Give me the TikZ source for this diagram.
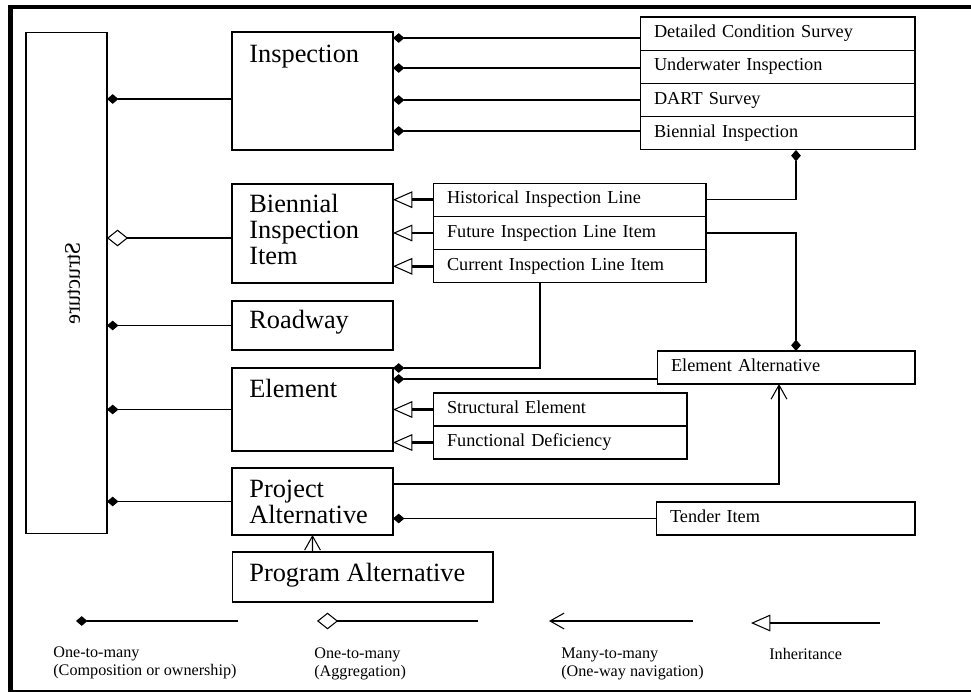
\documentclass[tikz,border=0pt]{standalone}
\usepackage{fontspec}
\setmainfont{Liberation Serif}
\usetikzlibrary{arrows.meta,positioning}

\begin{document}
\begin{tikzpicture}[x=0.02cm,y=-0.02cm,
  box/.style={draw, rectangle, inner sep=0pt, outer sep=0pt, line width=0.6pt},
  row/.style={draw, rectangle, outer sep=0pt, inner ysep=0pt, inner xsep=0.28cm, line width=0.6pt,
    align=left, font=\fontsize{10.4}{12}\selectfont, text height=7pt, text depth=2.4pt, minimum height=0.665cm},
  big/.style={font=\fontsize{15}{17}\selectfont, inner sep=0pt, anchor=base west},
  key/.style={font=\fontsize{9.2}{11}\selectfont, inner sep=0pt, anchor=base west},
  link/.style={line width=0.6pt},
  comp/.style={link, -{Diamond[length=6.5pt,width=5.5pt]}},
  agg/.style={link, -{Diamond[open,length=12pt,width=9.5pt]}},
  inh/.style={line width=1.4pt, -{Triangle[open,length=11pt,width=9.5pt,line width=0.6pt]}},
  nav/.style={link, -{Straight Barb[length=8pt,width=9pt]}}]
  \useasboundingbox (0,0) rectangle (971,691);
  % frame
  \draw[line width=2.5pt] (10.5,7) rectangle (1000,692);

  % main classes
  \node[box, minimum width=1.62cm, minimum height=10.04cm] (struct) at (66.5,283) {};
  \node[font=\fontsize{12.7}{14}\selectfont, cm={0,-1,-1,0,(0,0)}] at ([xshift=0.12cm]struct.center) {Structure};

  \node[box, minimum width=3.22cm, minimum height=2.36cm] (insp) at (312.5,91) {};
  \node[big] at ([shift={(17,30)}]insp.north west) {Inspection};

  \node[box, minimum width=3.22cm, minimum height=1.98cm] (bii) at (312.5,233.5) {};
  \node[big] at ([shift={(17,28)}]bii.north west) {Biennial};
  \node[big] at ([shift={(17,54)}]bii.north west) {Inspection};
  \node[big] at ([shift={(17,80)}]bii.north west) {Item};

  \node[box, minimum width=3.22cm, minimum height=0.98cm] (road) at (312.5,325.5) {};
  \node[big] at ([shift={(17,27)}]road.north west) {Roadway};

  \node[box, minimum width=3.22cm, minimum height=1.66cm] (elem) at (312.5,409.5) {};
  \node[big] at ([shift={(17,29)}]elem.north west) {Element};

  \node[box, minimum width=3.22cm, minimum height=1.34cm] (projalt) at (312.5,501.5) {};
  \node[big] at ([shift={(17,29)}]projalt.north west) {Project};
  \node[big] at ([shift={(17,55)}]projalt.north west) {Alternative};

  \node[box, minimum width=5.22cm, minimum height=1cm] (progalt) at (362.5,577) {};
  \node[big] at ([shift={(17,29)}]progalt.north west) {Program Alternative};

  % inspection types
  \node[row, text width=4.94cm] (dcs) at (777.5,33.6) {Detailed Condition Survey};
  \node[row, text width=4.94cm, below=0pt of dcs] (uwi) {Underwater Inspection};
  \node[row, text width=4.94cm, below=0pt of uwi] (dart) {DART Survey};
  \node[row, text width=4.94cm, below=0pt of dart] (bi) {Biennial Inspection};

  % line items
  \node[row, text width=4.9cm, minimum height=0.666cm] (hil) at (569.5,199.7) {Historical Inspection Line};
  \node[row, text width=4.9cm, minimum height=0.666cm, below=0pt of hil] (fil) {Future Inspection Line Item};
  \node[row, text width=4.9cm, minimum height=0.666cm, below=0pt of fil] (cil) {Current Inspection Line Item};

  % element types
  \node[row, text width=4.52cm, minimum height=0.66cm] (se) at (560,409.5) {Structural Element};
  \node[row, text width=4.52cm, minimum height=0.66cm, below=0pt of se] (fd) {Functional Deficiency};

  \node[row, text width=4.6cm, minimum height=0.66cm] (ea) at (786,367.5) {Element Alternative};
  \node[row, text width=4.62cm, minimum height=0.66cm] (tender) at (785.5,518.5) {Tender Item};

  % structure links
  \draw[comp] (insp.west |- 0,99) -- (struct.east |- 0,99);
  \draw[agg] (bii.west |- 0,238) -- (struct.east |- 0,238);
  \draw[comp] (road.west) -- (road.west -| struct.east);
  \draw[comp] (elem.west) -- (elem.west -| struct.east);
  \draw[comp] (projalt.west) -- (projalt.west -| struct.east);

  % inspection links
  \foreach \r/\y in {dcs/38,uwi/68,dart/100,bi/131}
    \draw[comp] (\r.west |- 0,\y) -- (insp.east |- 0,\y);

  % inheritance
  \foreach \r in {hil,fil,cil}
    \draw[inh] (\r.west) -- (\r.west -| bii.east);
  \foreach \r in {se,fd}
    \draw[inh] (\r.west) -- (\r.west -| elem.east);

  % line item links
  \draw[comp] (hil.east) -| ([xshift=0.37cm]bi.south);
  \draw[comp] (fil.east) -| ([xshift=0.2cm]ea.north);
  \draw[comp] ([xshift=-0.59cm]cil.south) |- (elem.north east);
  \coordinate (eaw) at ([yshift=-0.23cm]ea.west);
  \draw[comp] (eaw) -- (eaw -| elem.east);

  % alternatives
  \draw[nav] ([yshift=0.35cm]projalt.east) -| ([xshift=-0.14cm]ea.south);
  \draw[comp] (tender.west) -- (tender.west -| projalt.east);
  \draw[nav] ([xshift=-1cm]progalt.north) -- (projalt.south);

  % legend
  \coordinate (k1) at (76,621);  \coordinate (k1e) at (238,621);
  \coordinate (k2) at (317,621); \coordinate (k2e) at (478,621);
  \coordinate (k3) at (549,621); \coordinate (k3e) at (693,621);
  \coordinate (k4) at (751,623); \coordinate (k4e) at (880,623);
  \draw[comp] (k1e) -- (k1);
  \draw[agg] (k2e) -- (k2);
  \draw[nav] (k3e) -- (k3);
  \draw[inh, line width=0.6pt] (k4e) -- (k4);

  \node[key] at (53,657) {One-to-many};
  \node[key] at (53,675) {(Composition or ownership)};
  \node[key] at (314,658) {One-to-many};
  \node[key] at (314,676) {(Aggregation)};
  \node[key] at (561,658) {Many-to-many};
  \node[key] at (561,676) {(One-way navigation)};
  \node[key] at (769,659) {Inheritance};
\end{tikzpicture}
\end{document}
